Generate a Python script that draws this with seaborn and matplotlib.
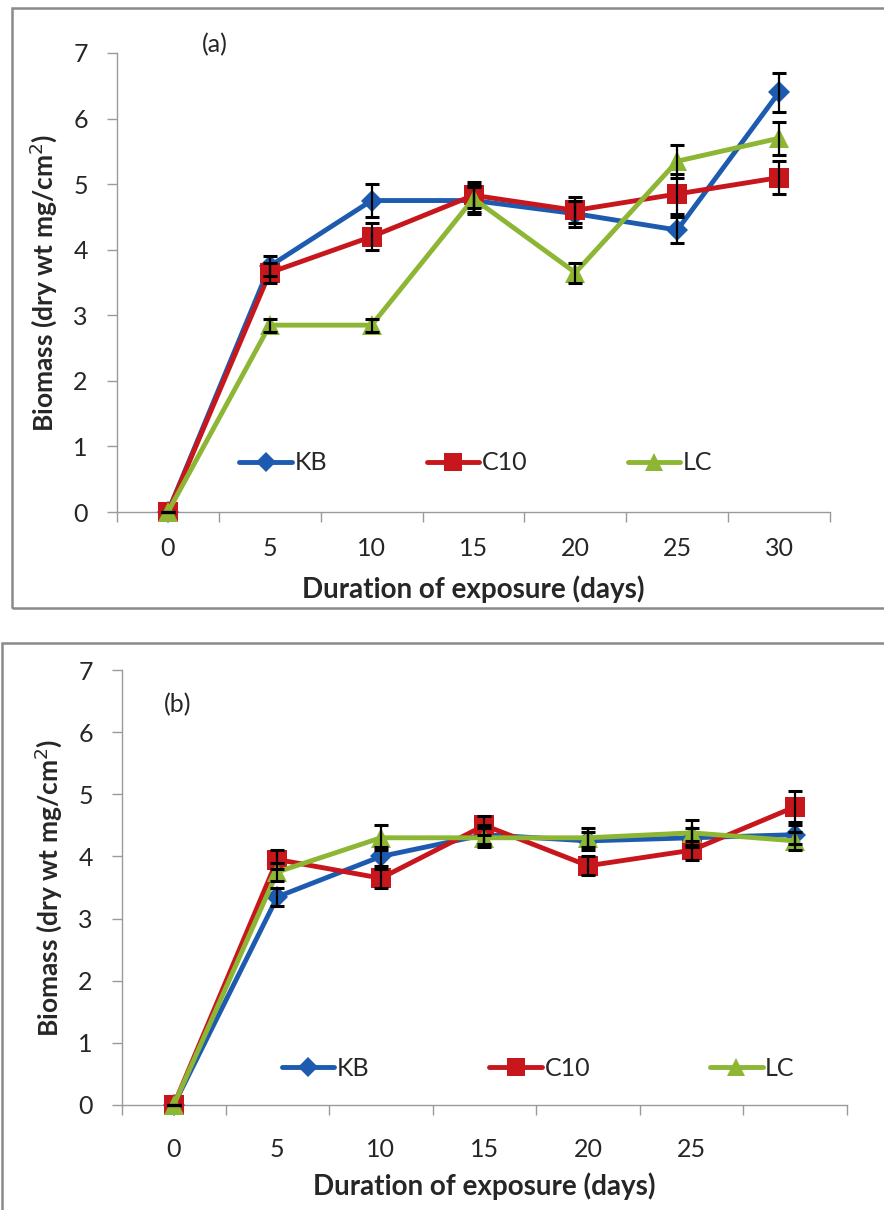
import matplotlib
matplotlib.use("Agg")
import matplotlib.pyplot as plt
import matplotlib.patches as patches
import seaborn as sns
import numpy as np

sns.set_style("white")
plt.rcParams['font.family'] = ['Lato', 'DejaVu Sans']

# Data
days = ['0', '5', '10', '15', '20', '25', '30']
series = ['KB', 'C10', 'LC']

# panel (a)
kb_a = [0, 3.75, 4.75, 4.75, 4.55, 4.3, 6.4]
c10_a = [0, 3.65, 4.2, 4.83, 4.6, 4.85, 5.1]
lc_a = [0, 2.85, 2.85, 4.78, 3.65, 5.35, 5.7]
kb_a_err = [0, 0.15, 0.25, 0.2, 0.2, 0.2, 0.3]
c10_a_err = [0, 0.15, 0.2, 0.2, 0.2, 0.3, 0.25]
lc_a_err = [0, 0.1, 0.1, 0.2, 0.15, 0.25, 0.25]

# panel (b)
kb_b = [0, 3.35, 4.0, 4.35, 4.25, 4.3, 4.35]
c10_b = [0, 3.95, 3.65, 4.5, 3.85, 4.1, 4.8]
lc_b = [0, 3.75, 4.3, 4.3, 4.3, 4.38, 4.25]
kb_b_err = [0, 0.15, 0.15, 0.15, 0.15, 0.15, 0.15]
c10_b_err = [0, 0.15, 0.15, 0.15, 0.15, 0.15, 0.25]
lc_b_err = [0, 0.15, 0.2, 0.15, 0.15, 0.2, 0.15]

tick_labels_b = ['0', '5', '10', '15', '20', '25', '']

colors = {'KB': '#1C5BB0', 'C10': '#C8161D', 'LC': '#8DB634'}
markers = {'KB': 'D', 'C10': 's', 'LC': '^'}
msizes = {'KB': 11, 'C10': 15, 'LC': 15}

fig = plt.figure(figsize=(8.84, 12.1), dpi=100)

# grey frames around each panel
fig.patches.append(patches.Rectangle((12 / 884, 1 - 608 / 1210), 2, (608 - 8) / 1210,
                                     transform=fig.transFigure, fill=False,
                                     edgecolor='#8a8a8a', lw=1.8))
fig.patches.append(patches.Rectangle((2 / 884, -0.1), 2, 0.1 + (1210 - 643) / 1210,
                                     transform=fig.transFigure, fill=False,
                                     edgecolor='#8a8a8a', lw=1.8))

ax_a = fig.add_axes([117 / 884, 1 - 512 / 1210, 713 / 884, 459 / 1210])
ax_b = fig.add_axes([122 / 884, 1 - 1105 / 1210, 725 / 884, 435 / 1210])


def draw_panel(ax, vals, errs, xticklabels, tag, tag_pos, leg_pos, colsp, tpad, lpad):
    x = np.arange(len(days))
    for name in series:
        sns.lineplot(x=x, y=vals[name], ax=ax, color=colors[name], lw=3.5,
                     marker=markers[name], markersize=msizes[name],
                     markeredgewidth=0, label=name, clip_on=False, zorder=3)
    for name in series:
        ax.errorbar(x, vals[name], yerr=errs[name], fmt='none', ecolor='black',
                    elinewidth=1.6, capsize=5, capthick=2.2, zorder=4, clip_on=False)
    ax.set_xlim(-0.5, 6.5)
    ax.set_ylim(0, 7)
    ax.set_yticks(range(8))
    ax.set_xticks(x)
    ax.set_xticklabels(xticklabels, fontsize=18)
    ax.set_xticks(np.arange(-0.5, 7, 1), minor=True)
    ax.tick_params(axis='x', which='major', length=0, pad=tpad)
    ax.tick_params(axis='x', which='minor', length=7, width=1, color='#9a9a9a',
                   direction='out', bottom=True)
    ax.tick_params(axis='y', labelsize=18, length=7, width=1, color='#9a9a9a',
                   direction='out', left=True, pad=14)
    for s in ['top', 'right']:
        ax.spines[s].set_visible(False)
    for s in ['left', 'bottom']:
        ax.spines[s].set_color('#9a9a9a')
        ax.spines[s].set_linewidth(1)
    ax.set_xlabel('Duration of exposure (days)', fontsize=20, fontweight='bold', labelpad=lpad)
    ax.set_ylabel('Biomass (dry wt mg/cm$^2$)', fontsize=19, fontweight='bold', labelpad=10)
    ax.text(tag_pos[0], tag_pos[1], tag, transform=ax.transAxes, fontsize=18,
            ha='center', va='center')
    ax.legend(ncol=3, loc='center', bbox_to_anchor=leg_pos, frameon=False,
              fontsize=18, handlelength=2.1, handletextpad=0.1, columnspacing=colsp,
              markerscale=0.9)


draw_panel(ax_a, {'KB': kb_a, 'C10': c10_a, 'LC': lc_a},
           {'KB': kb_a_err, 'C10': c10_a_err, 'LC': lc_a_err},
           days, '(a)', ((215 - 117) / 713, (512 - 45) / 459), (0.503, 0.107), 4.0, 18, 11)
draw_panel(ax_b, {'KB': kb_b, 'C10': c10_b, 'LC': lc_b},
           {'KB': kb_b_err, 'C10': c10_b_err, 'LC': lc_b_err},
           tick_labels_b, '(b)', ((178 - 122) / 725, (1105 - 705) / 435), (0.574, 0.085), 4.8, 24, 8)

fig.savefig('out.png', dpi=100)
